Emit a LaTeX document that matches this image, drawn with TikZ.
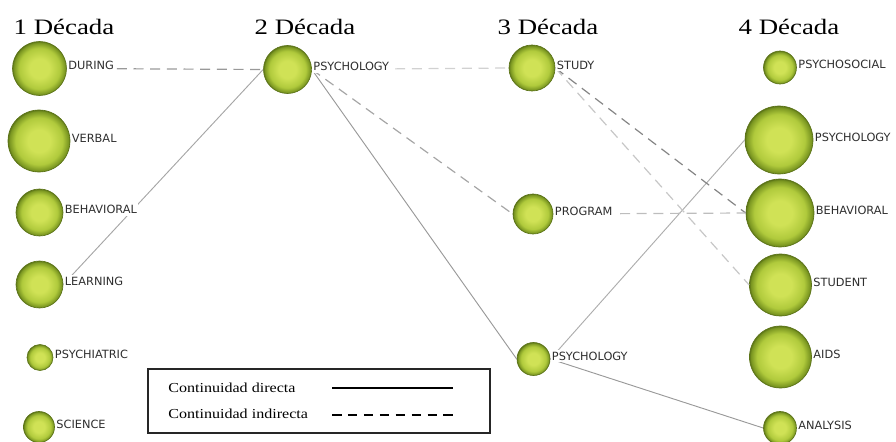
\documentclass[tikz,border=0pt]{standalone}
\usepackage{fontspec}
\setmainfont{Liberation Serif}
\newfontfamily\labelfont{DejaVu Sans}
\usetikzlibrary{positioning}

\definecolor{ballin}{RGB}{208,226,86}
\definecolor{ballmid}{RGB}{176,202,60}
\definecolor{ballout}{RGB}{120,148,32}
\definecolor{ballrim}{RGB}{92,116,24}
\pgfdeclareradialshading{greenball}{\pgfpoint{0bp}{0bp}}{color(0bp)=(ballin); color(9bp)=(ballin); color(19bp)=(ballmid); color(24bp)=(ballout); color(25bp)=(ballrim); color(50bp)=(ballrim)}

\begin{document}
\begin{tikzpicture}[x=0.75pt, y=-0.75pt,
    ball/.style={circle, shade, shading=greenball, draw=ballrim, line width=0.5pt,
      inner sep=0pt, minimum size={#1*1.5pt}},
    lbl/.style={font=\labelfont\fontsize{8.5}{9}\selectfont, text=black!82, fill=white,
      inner xsep=1pt, inner ysep=1.5pt, yshift=2.25pt},
    title/.style={font=\fontsize{16.5}{20}\selectfont, xscale=1.22, anchor=base},
    note/.style={font=\fontsize{10.3}{12}\selectfont, xscale=1.17, anchor=base west, inner sep=0pt},
    link/.style={line width=0.7pt},
    ilink/.style={line width=0.9pt, dash pattern=on 7.5pt off 5pt}]
    \useasboundingbox (0,0) rectangle (896,442);

    \foreach \i/\x in {1/64,2/305,3/548,4/789}
      \node[title] (t\i) at (\x,35) {\i{} Década};

    \foreach \n/\x/\y/\r in {d1dur/39.5/68.5/27, d1ver/39/141/31, d1beh/39.5/212.5/23.5,
        d1lea/39.5/284.5/23.5, d1psy/40/357.5/13, d1sci/39/427/15.5,
        d2psy/287.5/69.5/24,
        d3stu/532/68/23, d3pro/533/214/20, d3psy/533.5/359/16.5,
        d4pss/780/67.5/16.5, d4psy/779/140/34, d4beh/780/213/34,
        d4stu/780.5/285/31, d4aid/780.5/357/31, d4ana/780/428/16.5}
      \node[ball=\r] (\n) at (\x,\y) {};

    \draw[link, draw=black!35] (d1lea.east) -- (d2psy.west);
    \draw[link, draw=black!40] (d2psy.east) -- (d3psy.west);
    \draw[link, draw=black!32] (d3psy.east) -- (d4psy.west);
    \draw[link, draw=black!40] (d3psy.east) -- (d4ana.west);
    \draw[ilink, draw=black!40] (d1dur.east) -- (d2psy.west);
    \draw[ilink, draw=black!18] (d2psy.east) -- (d3stu.west);
    \draw[ilink, draw=black!35] (d2psy.east) -- (d3pro.west);
    \draw[ilink, draw=black!48] (d3stu.east) -- (d4beh.west);
    \draw[ilink, draw=black!22] (d3stu.east) -- (d4stu.west);
    \draw[ilink, draw=black!26] (d3pro.east) -- (d4beh.west);

    \foreach \n/\t in {d1dur/DURING, d1ver/VERBAL, d1beh/BEHAVIORAL, d1lea/LEARNING,
        d1psy/PSYCHIATRIC, d1sci/SCIENCE, d2psy/PSYCHOLOGY,
        d3stu/STUDY, d3pro/PROGRAM, d3psy/PSYCHOLOGY,
        d4pss/PSYCHOSOCIAL, d4psy/PSYCHOLOGY, d4beh/BEHAVIORAL,
        d4stu/STUDENT, d4aid/AIDS, d4ana/ANALYSIS}
      \node[lbl, right=0pt of \n] (\n-l) {\t};

    \node[draw=black!85, line width=1pt, minimum width=256.5pt, minimum height=48pt,
      inner sep=0pt] (legend) at (319,401) {};
    \node[note] (lgdir) at (168,392) {Continuidad directa};
    \node[note] (lgind) at (168,418) {Continuidad indirecta};
    \coordinate (lgdir-a) at (332,388);
    \coordinate (lgdir-b) at (453,388);
    \coordinate (lgind-a) at (332,415);
    \coordinate (lgind-b) at (453,415);
    \draw[line width=0.9pt] (lgdir-a) -- (lgdir-b);
    \draw[line width=0.9pt, dash pattern=on 7.16pt off 4.78pt] (lgind-a) -- (lgind-b);
\end{tikzpicture}
\end{document}
